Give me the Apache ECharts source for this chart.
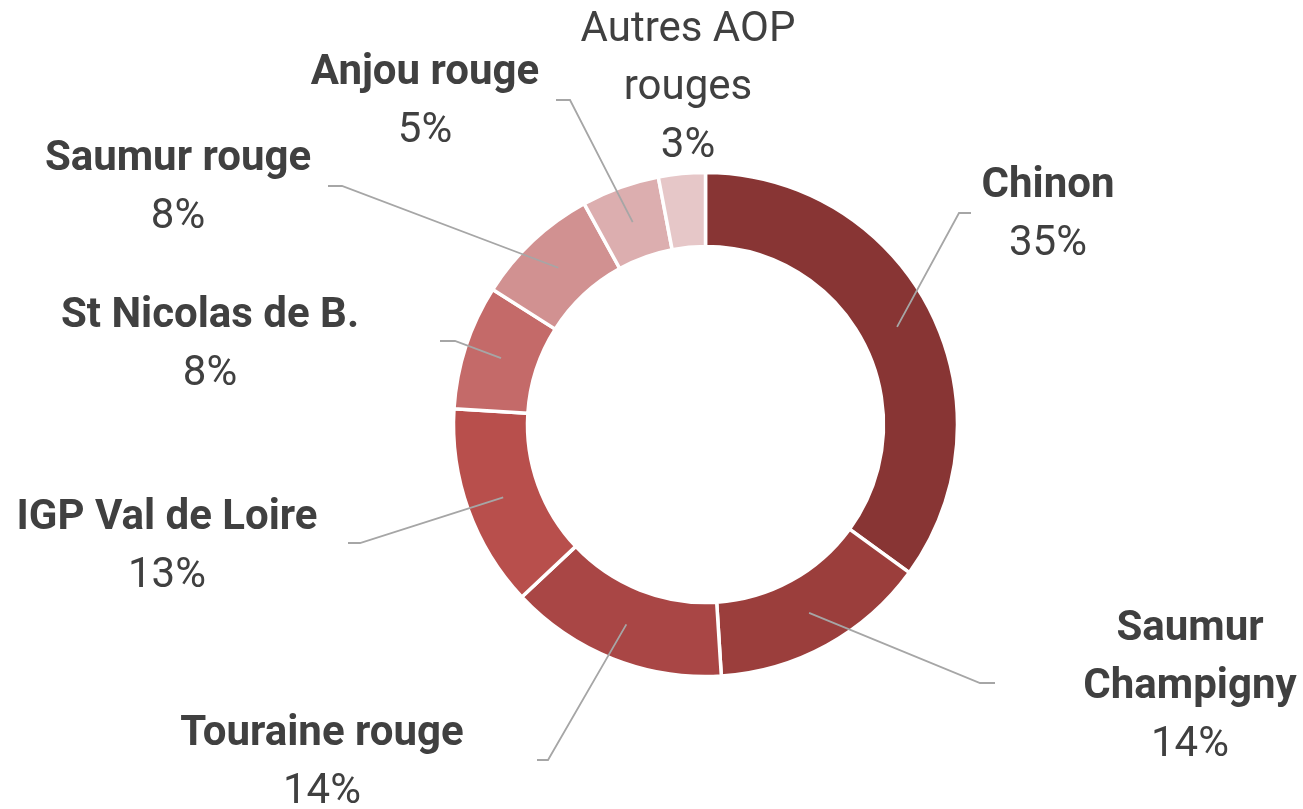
<!DOCTYPE html>
<html>
<head>
<meta charset="utf-8">
<script src="https://cdn.jsdelivr.net/npm/echarts@6/dist/echarts.min.js"></script>
<style>
  html, body { margin: 0; padding: 0; background: #fff; }
  #chart { width: 1303px; height: 809px; }
</style>
</head>
<body>
<div id="chart"></div>
<script>
// data (share in %)
var categories = ['Chinon', 'Saumur Champigny', 'Touraine rouge', 'IGP Val de Loire',
                  'St Nicolas de B.', 'Saumur rouge', 'Anjou rouge', 'Autres AOP rouges'];
var values = [35, 14, 14, 13, 8, 8, 5, 3];
var colors = ['#883534', '#9B3E3C', '#A94645', '#B84F4C', '#C46A69', '#D19191', '#DCAEAF', '#E6C7C8'];

// label layout (block centres) and leader elbows [elbowX, elbowY, endX]
var labelPos = [[1048, 215], [1190, 687], [322, 763], [167, 547], [210, 345], [178, 188], [425, 102], [688, 88]];
var elbows = [[959, 213, 971], [980, 683, 995], [548, 760, 537], [360, 543, 348],
              [455, 341, 440], [342, 186, 328], [570, 100, 556], null];
var labelBreaks = { 1: 'Saumur\nChampigny', 7: 'Autres AOP\nrouges' };

var cx = 705.5, cy = 424.5, rIn = 178, rOut = 252;
var total = values.reduce(function (a, b) { return a + b; }, 0);

function anchor(i) {
    var before = 0;
    for (var k = 0; k < i; k++) before += values[k];
    var a = (before + values[i] / 2) / total * Math.PI * 2;
    var r = (rIn + rOut) / 2;
    return [cx + r * Math.sin(a), cy - r * Math.cos(a)];
}

var font = "Roboto, 'Noto Sans', sans-serif";
var fs = 42;

var chart = echarts.init(document.getElementById('chart'));
chart.setOption({
    animation: false,
    series: [{
        // coloured ring
        type: 'pie',
        z: 2,
        center: [cx, cy],
        radius: [rIn, rOut],
        startAngle: 90,
        silent: true,
        itemStyle: { borderColor: '#fff', borderWidth: 3.5 },
        label: { show: false },
        labelLine: { show: false },
        data: categories.map(function (c, i) {
            return { name: c, value: values[i], itemStyle: { color: colors[i] } };
        })
    }, {
        // same ring, invisible, carries the labels so leader lines sit on top
        type: 'pie',
        z: 5,
        center: [cx, cy],
        radius: [rIn, rOut],
        startAngle: 90,
        silent: true,
        avoidLabelOverlap: false,
        itemStyle: { color: 'rgba(0,0,0,0)', borderWidth: 0 },
        data: categories.map(function (c, i) {
            return { name: c, value: values[i] };
        }),
        label: {
            show: true,
            position: 'outside',
            color: '#404040',
            fontFamily: font,
            formatter: function (p) {
                var n = labelBreaks[p.dataIndex] || p.name;
                var st = p.dataIndex === 7 ? 'l' : 'b';
                return n.split('\n').map(function (s) { return '{' + st + '|' + s + '}'; }).join('\n') +
                    '\n{p|' + p.value + '%}';
            },
            rich: {
                b: { fontFamily: font, fontSize: fs, fontWeight: 'bold', color: '#404040', lineHeight: 58, align: 'center' },
                l: { fontFamily: font, fontSize: fs, color: '#404040', lineHeight: 58, align: 'center' },
                p: { fontFamily: font, fontSize: fs, color: '#404040', lineHeight: 58, align: 'center' }
            }
        },
        labelLine: { show: true, showAbove: true, lineStyle: { color: '#A6A6A6', width: 1.8 } },
        labelLayout: function (p) {
            var i = p.dataIndex;
            var out = { x: labelPos[i][0], y: labelPos[i][1], align: 'center', verticalAlign: 'middle' };
            var e = elbows[i];
            if (e) {
                out.labelLinePoints = [anchor(i), [e[0], e[1]], [e[2], e[1]]];
            } else {
                var a = anchor(i);
                out.labelLinePoints = [a, a, a];
            }
            return out;
        }
    }]
});
</script>
</body>
</html>
